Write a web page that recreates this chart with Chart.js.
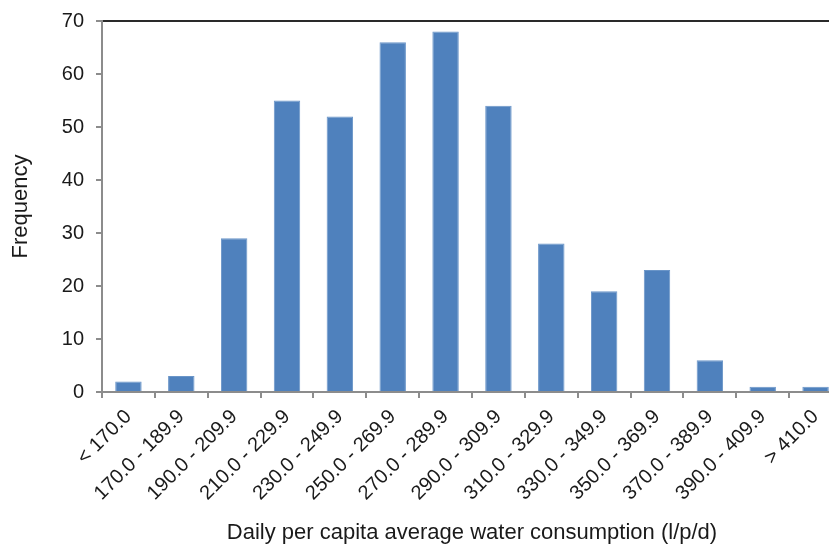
<!DOCTYPE html>
<html lang="en">
<head>
  <meta charset="UTF-8">
  <title>Daily per capita water consumption</title>
  <script src="https://cdn.jsdelivr.net/npm/chart.js"></script>
  <style>
    html, body {
      margin: 0;
      padding: 0;
      background: #fff;
      overflow: hidden;
    }
    .chart-box {
      position: relative;
      width: 842px;
      height: 546px;
    }
  </style>
</head>
<body>
  <div class="chart-box">
    <canvas id="freqChart"></canvas>
  </div>

  <script>
    // consumption bands (l/p/d)
    const bands = [
      '< 170.0', '170.0 - 189.9', '190.0 - 209.9', '210.0 - 229.9',
      '230.0 - 249.9', '250.0 - 269.9', '270.0 - 289.9', '290.0 - 309.9',
      '310.0 - 329.9', '330.0 - 349.9', '350.0 - 369.9', '370.0 - 389.9',
      '390.0 - 409.9', '> 410.0'
    ];
    const frequency = [2, 3, 29, 55, 52, 66, 68, 54, 28, 19, 23, 6, 1, 1];
    const yTicks = [0, 10, 20, 30, 40, 50, 60, 70];

    const font = 'Arial, "Liberation Sans", sans-serif';

    const ctx = document.getElementById('freqChart').getContext('2d');
    new Chart(ctx, {
      type: 'bar',
      data: {
        labels: bands,
        datasets: [{
          label: 'Frequency',
          data: frequency,
          backgroundColor: '#4F81BD',
          borderColor: '#6A95C8',
          borderWidth: 1,
          categoryPercentage: 1.0,
          barPercentage: 0.5
        }]
      },
      options: {
        responsive: true,
        maintainAspectRatio: false,
        animation: false,
        layout: {
          padding: { top: 11, left: 7, right: 0, bottom: 0 }
        },
        plugins: {
          legend: { display: false },
          tooltip: { enabled: false }
        },
        scales: {
          x: {
            grid: {
              display: true,
              drawOnChartArea: false,
              color: '#8c8c8c',
              tickColor: '#8c8c8c',
              tickLength: 6,
              lineWidth: 2
            },
            border: { color: '#8c8c8c', width: 2 },
            ticks: {
              color: '#1a1a1a',
              font: { family: font, size: 20 },
              maxRotation: 45,
              minRotation: 45,
              autoSkip: false,
              padding: 7
            },
            title: {
              display: true,
              text: 'Daily per capita average water consumption (l/p/d)',
              color: '#1a1a1a',
              font: { family: font, size: 22 },
              padding: { top: 12, bottom: 0 }
            },
            afterFit: (scale) => { scale.height = 154; }
          },
          y: {
            min: 0,
            max: 70,
            afterBuildTicks: (scale) => {
              scale.ticks = yTicks.map(v => ({ value: v }));
            },
            grid: {
              color: (c) => c.tick && c.tick.value === 70 ? '#2a2a2a' : 'rgba(0,0,0,0)',
              tickColor: '#8c8c8c',
              tickLength: 6,
              lineWidth: 2
            },
            border: { color: '#8c8c8c', width: 2 },
            ticks: {
              color: '#1a1a1a',
              font: { family: font, size: 20, lineHeight: 0.9 },
              padding: 12
            },
            title: {
              display: true,
              text: 'Frequency',
              color: '#1a1a1a',
              font: { family: font, size: 22 },
              padding: { top: 1, bottom: 4 }
            },
            afterFit: (scale) => { scale.width = 95; }
          }
        }
      }
    });
  </script>
</body>
</html>
